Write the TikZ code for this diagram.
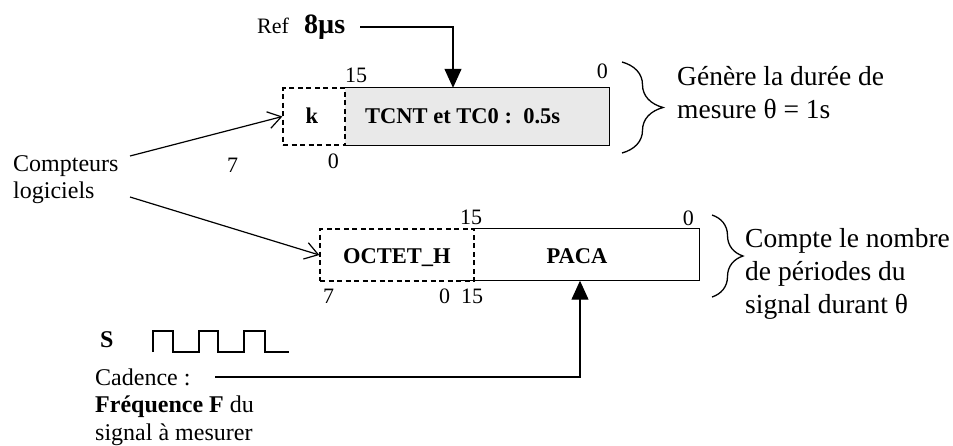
\documentclass[tikz,border=0pt]{standalone}
\usepackage{fontspec}
\setmainfont{Liberation Serif}
\usetikzlibrary{arrows.meta,decorations.pathreplacing}
\newcommand\fbig{\fontsize{27.5}{33}\selectfont}
\newcommand\fmid{\fontsize{24}{27.5}\selectfont}
\newcommand\flab{\fontsize{22.5}{26}\selectfont}
\newcommand\fnum{\fontsize{22}{26}\selectfont}
\newcommand\fref{\fontsize{22}{26}\selectfont}
\newcommand\frefv{\fontsize{28}{32}\selectfont}
\begin{document}
\begin{tikzpicture}[x=1pt,y=-1pt,
  wire/.style={line width=1.2pt},
  boxline/.style={line width=1.3pt},
  dashbox/.style={draw, line width=1.3pt, dash pattern=on 5pt off 3.5pt, inner sep=0pt},
  txt/.style={inner sep=0pt, anchor=base west},
  bigtxt/.style={txt, font=\fbig},
  midtxt/.style={txt, font=\fmid},
  lab/.style={inner sep=0pt, font=\flab\bfseries},
  num/.style={inner sep=0pt, font=\fnum},
  openarrow/.style={-{Straight Barb[length=13pt,width=17pt,line width=1.2pt]}},
  filledarrow/.style={-{Triangle[length=19pt,width=17pt]}},
  bracestyle/.style={line width=1.3pt, decorate}
]
\useasboundingbox (0,0) rectangle (953,445);

% ---------- top register ----------
\node[fill=gray!17, inner sep=0pt, minimum width=264pt, minimum height=57pt] (tcnt) at (477,116.5) {};
\draw[boxline] (tcnt.north west) -- (tcnt.north east) -- (tcnt.south east) -- (tcnt.south west);
\node[dashbox, minimum width=62pt, minimum height=57pt] (kbox) at (314,116.5) {};
\node[lab, anchor=base] (ktxt) at (312,123) {k};
\node[lab, anchor=base west] (tctxt) at (365,123) {TCNT et TC0 :\ \ 0.5s};

\node[num, anchor=base west] (n15a) at (345,82) {15};
\node[num, anchor=base east] (n0a) at (608,78) {0};
\node[num, anchor=base east] (n0b) at (339,168) {0};
\node[num, anchor=base west] (n7a) at (227,172) {7};

% Ref
\node[txt, font=\fref] (reft) at (257,33) {Ref};
\node[txt, font=\frefv\bfseries] (refv) at (304,33) {8µs};
\coordinate (refstart) at (360,27);
\coordinate (refbend) at (453,27);
\draw[wire, filledarrow] (refstart) -- (refbend) -- (refbend |- tcnt.north);

% brace top
\draw[bracestyle, decoration={brace, amplitude=41pt}] (622,62) -- (622,153);
\node[bigtxt] (gen1) at (677,85) {Génère la durée de};
\node[bigtxt] (gen2) at (677,118) {mesure θ = 1s};

% ---------- bottom register ----------
\node[inner sep=0pt, minimum width=225pt, minimum height=52pt] (paca) at (586.5,254.5) {};
\draw[boxline] (paca.north west) -- (paca.north east) -- (paca.south east) -- ([xshift=-14pt]paca.south west);
\node[dashbox, minimum width=154pt, minimum height=52pt] (octet) at (397,255) {};
\node[lab, anchor=base west] (octxt) at (343,263) {OCTET\_H};
\node[lab, anchor=base] (pacatxt) at (577,263) {PACA};

\node[num, anchor=base west] (n15b) at (460,224) {15};
\node[num, anchor=base east] (n0c) at (694,225) {0};
\node[num, anchor=base west] (n7b) at (323,303) {7};
\node[num, anchor=base west] (n0d) at (439,303) {0};
\node[num, anchor=base west] (n15c) at (461,303) {15};

% brace bottom
\draw[bracestyle, decoration={brace, amplitude=31pt}] (712,215) -- (712,297);
\node[bigtxt] (cmp1) at (745,247) {Compte le nombre};
\node[bigtxt] (cmp2) at (745,280) {de périodes du};
\node[bigtxt] (cmp3) at (745,313) {signal durant θ};

% ---------- left labels ----------
\node[midtxt] (comp1) at (13,171) {Compteurs};
\node[midtxt] (comp2) at (13,198) {logiciels};
\coordinate (c1) at (130,156);
\coordinate (c2) at (130,197);
\draw[wire, openarrow] (c1) -- (kbox.west);
\draw[wire, openarrow] (c2) -- (octet.west);

% ---------- signal ----------
\node[txt, font=\fmid\bfseries] (S) at (100,347) {S};
\draw[line width=1.2pt] (153,352) -- (153,331) -- (173,331) -- (173,352) -- (199,352) -- (199,331)
  -- (218,331) -- (218,352) -- (244,352) -- (244,331) -- (265,331) -- (265,352) -- (289,352);

\node[midtxt] (cad1) at (95,385) {Cadence :};
\node[midtxt] (cad2) at (95,412) {\textbf{Fréquence F} du};
\node[midtxt] (cad3) at (95,440) {signal à mesurer};
\coordinate (cad) at (215,377);
\coordinate (cadbend) at (580,377);
\draw[wire, filledarrow] (cad) -- (cadbend) -- (cadbend |- paca.south);
\end{tikzpicture}
\end{document}
